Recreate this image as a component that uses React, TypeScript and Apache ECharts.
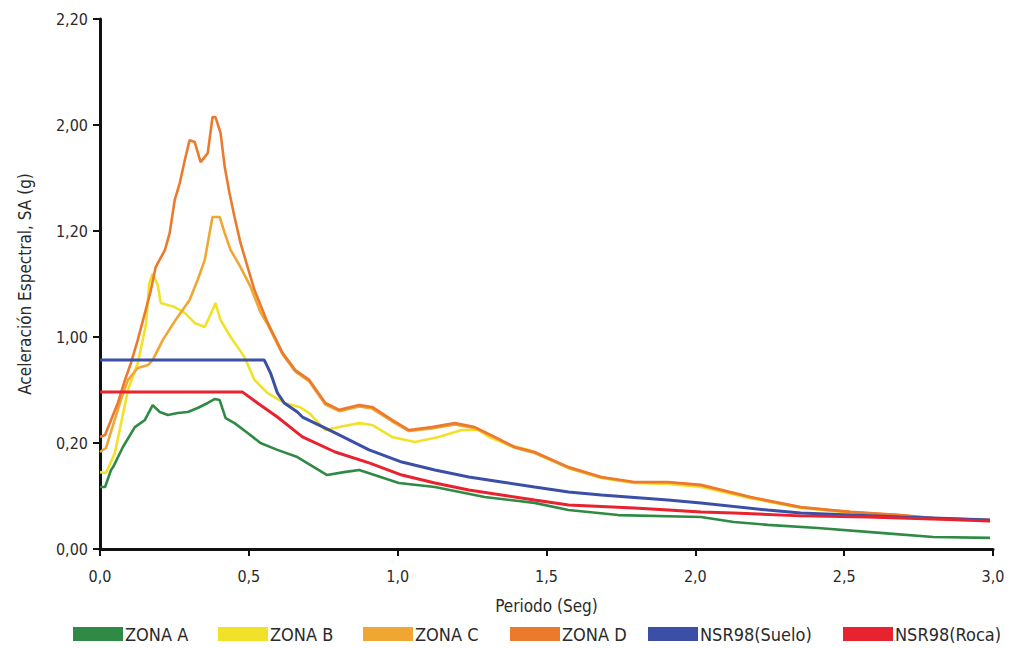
import React, { useEffect, useRef } from "react";
import * as echarts from "echarts";

const seriesNames = ["ZONA A", "ZONA B", "ZONA C", "ZONA D", "NSR98(Suelo)", "NSR98(Roca)"];
const seriesColors = ["#2f8a45", "#f1e227", "#f0a632", "#ec7a2c", "#3b4fa6", "#e8222e"];
const legendLefts = [65, 210, 355, 502, 640, 835];

const yTickLabels = ["0,00", "0,20", "1,00", "1,20", "2,00", "2,20"];
const xTickLabels = ["0,0", "0,5", "1,0", "1,5", "2,0", "2,5", "3,0"];

const zonaA: number[][] = [
  [0, 0.234], [0.017, 0.234], [0.037, 0.298], [0.044, 0.309], [0.077, 0.385], [0.117, 0.46],
  [0.151, 0.487], [0.177, 0.543], [0.201, 0.517], [0.228, 0.506], [0.261, 0.513], [0.295, 0.517],
  [0.328, 0.532], [0.362, 0.551], [0.385, 0.566], [0.402, 0.562], [0.422, 0.494], [0.452, 0.475],
  [0.496, 0.438], [0.539, 0.4], [0.596, 0.374], [0.663, 0.347], [0.763, 0.279], [0.82, 0.29],
  [0.871, 0.298], [1.004, 0.249], [1.125, 0.234], [1.292, 0.196], [1.46, 0.174], [1.574, 0.147],
  [1.741, 0.128], [2.019, 0.121], [2.129, 0.102], [2.243, 0.091], [2.411, 0.079], [2.632, 0.06],
  [2.799, 0.045], [2.99, 0.042],
];

const zonaB: number[][] = [
  [0, 0.29], [0.02, 0.287], [0.05, 0.362], [0.094, 0.6], [0.127, 0.702], [0.155, 0.85],
  [0.165, 1.0], [0.177, 1.04], [0.194, 0.996], [0.204, 0.928], [0.251, 0.913], [0.285, 0.891], [0.318, 0.853],
  [0.352, 0.838], [0.378, 0.902], [0.388, 0.928], [0.405, 0.864], [0.439, 0.8], [0.485, 0.725],
  [0.519, 0.638], [0.562, 0.589], [0.619, 0.551], [0.67, 0.536], [0.703, 0.513], [0.757, 0.449],
  [0.804, 0.46], [0.871, 0.475], [0.914, 0.468], [0.981, 0.423], [1.058, 0.404], [1.138, 0.423],
  [1.215, 0.449], [1.272, 0.449], [1.306, 0.423], [1.373, 0.392], [1.44, 0.374], [1.574, 0.305],
  [1.684, 0.268], [1.795, 0.249], [1.908, 0.245], [2.019, 0.234], [2.186, 0.192], [2.354, 0.155],
  [2.521, 0.137], [2.689, 0.125], [2.799, 0.114], [2.99, 0.106],
];

const zonaC: number[][] = [
  [0, 0.366], [0.02, 0.381], [0.044, 0.468], [0.07, 0.562], [0.094, 0.638], [0.127, 0.683],
  [0.161, 0.694], [0.177, 0.713], [0.211, 0.789], [0.254, 0.864], [0.301, 0.94], [0.328, 1.015],
  [0.352, 1.091], [0.368, 1.192], [0.378, 1.253], [0.402, 1.253], [0.419, 1.192], [0.439, 1.128],
  [0.472, 1.064], [0.506, 0.989], [0.539, 0.894], [0.562, 0.85], [0.613, 0.735], [0.656, 0.67],
  [0.703, 0.632], [0.757, 0.545], [0.804, 0.52], [0.871, 0.538], [0.914, 0.53], [0.981, 0.482],
  [1.038, 0.445], [1.115, 0.455], [1.192, 0.47], [1.259, 0.456], [1.326, 0.42], [1.393, 0.382],
  [1.46, 0.362], [1.574, 0.306], [1.684, 0.27], [1.795, 0.251], [1.908, 0.251], [2.019, 0.24],
  [2.186, 0.194], [2.354, 0.157], [2.521, 0.139], [2.689, 0.127], [2.799, 0.116], [2.99, 0.108],
];

const zonaD: number[][] = [
  [0, 0.423], [0.017, 0.43], [0.037, 0.487], [0.06, 0.551], [0.084, 0.638], [0.104, 0.702],
  [0.127, 0.789], [0.151, 0.891], [0.171, 0.977], [0.187, 1.064], [0.218, 1.128], [0.234, 1.192],
  [0.251, 1.317], [0.268, 1.381], [0.285, 1.468], [0.301, 1.543], [0.318, 1.536], [0.338, 1.46],
  [0.362, 1.494], [0.378, 1.63], [0.388, 1.63], [0.405, 1.57], [0.419, 1.442], [0.435, 1.343],
  [0.452, 1.253], [0.472, 1.155], [0.496, 1.064], [0.519, 0.977], [0.562, 0.857], [0.613, 0.74],
  [0.656, 0.675], [0.703, 0.638], [0.757, 0.551], [0.804, 0.525], [0.871, 0.543], [0.914, 0.536],
  [0.981, 0.487], [1.038, 0.449], [1.115, 0.46], [1.192, 0.475], [1.259, 0.46], [1.326, 0.423],
  [1.393, 0.385], [1.46, 0.366], [1.574, 0.309], [1.684, 0.272], [1.795, 0.253], [1.908, 0.253],
  [2.019, 0.242], [2.186, 0.196], [2.354, 0.158], [2.521, 0.14], [2.689, 0.128], [2.799, 0.117],
  [2.99, 0.109],
];

const nsrSuelo: number[][] = [
  [0, 0.713], [0.552, 0.713], [0.573, 0.664], [0.596, 0.589], [0.619, 0.551], [0.663, 0.517],
  [0.68, 0.498], [0.79, 0.438], [0.904, 0.374], [1.014, 0.328], [1.125, 0.298], [1.239, 0.272],
  [1.349, 0.253], [1.46, 0.234], [1.574, 0.215], [1.684, 0.204], [1.908, 0.185], [2.019, 0.174],
  [2.243, 0.147], [2.354, 0.136], [2.521, 0.128], [2.689, 0.121], [2.799, 0.117], [2.99, 0.109],
];

const nsrRoca: number[][] = [
  [0, 0.592], [0.479, 0.592], [0.529, 0.551], [0.596, 0.498], [0.663, 0.438], [0.68, 0.423],
  [0.79, 0.366], [0.904, 0.325], [1.014, 0.279], [1.125, 0.249], [1.239, 0.223], [1.349, 0.204],
  [1.46, 0.185], [1.574, 0.166], [1.795, 0.155], [2.019, 0.14], [2.129, 0.136], [2.354, 0.125],
  [2.578, 0.121], [2.799, 0.113], [2.99, 0.106],
];

const allData = [zonaA, zonaB, zonaC, zonaD, nsrSuelo, nsrRoca];

const FONT = "'DejaVu Sans Condensed', 'Liberation Sans Narrow', Roboto, sans-serif";

export default function App() {
  const ref = useRef<HTMLDivElement>(null);
  useEffect(() => {
    if (!ref.current) return;
    const chart = echarts.init(ref.current, undefined, { renderer: "svg" });
    chart.setOption({
      animation: false,
      backgroundColor: "#ffffff",
      color: seriesColors,
      grid: { left: 89, right: 20, top: 11, bottom: 99, containLabel: false },
      legend: seriesNames.map((name, i) => ({
        left: legendLefts[i],
        top: 617,
        padding: 0,
        icon: "rect",
        itemWidth: 50,
        itemHeight: 14,
        textStyle: { fontFamily: FONT, fontSize: 18, color: "#2a2a2a", padding: [0, 0, 0, -3] },
        data: [name],
      })),
      xAxis: {
        type: "value",
        min: 0,
        max: 3,
        interval: 0.5,
        name: "Periodo (Seg)",
        nameLocation: "middle",
        nameGap: 48,
        nameTextStyle: { fontFamily: FONT, fontSize: 17, color: "#2a2a2a" },
        axisLine: { show: true, onZero: false, lineStyle: { color: "#111", width: 3 } },
        axisTick: { show: true, length: 7, lineStyle: { color: "#111", width: 2 } },
        axisLabel: {
          fontFamily: FONT,
          fontSize: 16,
          color: "#2a2a2a",
          margin: 19,
          formatter: (v: number) => xTickLabels[Math.round(v / 0.5)] ?? "",
        },
        splitLine: { show: false },
      },
      yAxis: {
        type: "value",
        min: 0,
        max: 2.0,
        interval: 0.4,
        name: "Aceleración Espectral, SA (g)",
        nameLocation: "middle",
        nameGap: 67,
        nameTextStyle: { fontFamily: FONT, fontSize: 17, color: "#2a2a2a" },
        axisLine: { show: true, lineStyle: { color: "#111", width: 3 } },
        axisTick: { show: true, length: 7, lineStyle: { color: "#111", width: 2 } },
        axisLabel: {
          fontFamily: FONT,
          fontSize: 16,
          color: "#2a2a2a",
          margin: 12,
          formatter: (v: number) => yTickLabels[Math.round(v / 0.4)] ?? "",
        },
        splitLine: { show: false },
      },
      series: seriesNames.map((name, i) => ({
        name,
        type: "line",
        data: allData[i],
        showSymbol: false,
        symbol: "none",
        lineStyle: { width: i >= 4 ? 3 : 2.6, color: seriesColors[i] },
        itemStyle: { color: seriesColors[i] },
        z: 2 + i,
      })),
    });
    return () => chart.dispose();
  }, []);
  return <div ref={ref} style={{ width: 1005, height: 640 }} />;
}
